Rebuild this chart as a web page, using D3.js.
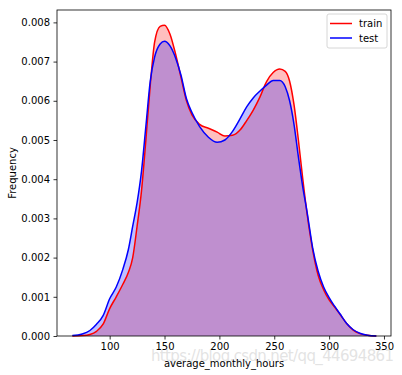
<!DOCTYPE html>
<html>
<head>
<meta charset="utf-8">
<script src="https://cdn.jsdelivr.net/npm/d3@7"></script>
<style>
  body { margin: 0; background: #fff; }
  svg { display: block; font-family: "DejaVu Sans", sans-serif; }
</style>
</head>
<body>
<svg id="chart" width="402" height="375"></svg>
<script>
// kde grid (average monthly hours)
const hours = [66, 75, 82, 88, 94, 100, 106, 112, 117, 121, 125, 129, 133, 137, 141, 146, 150, 155, 160, 165,
	170, 175, 182, 190, 198, 205, 212, 219, 225, 231, 237, 243, 249, 255, 260, 264, 268, 272, 276, 280,
	285, 290, 295, 300, 305, 310, 316, 322, 328, 335, 343]

const trainDensity = [0, 0.00001, 0.00004, 0.00012, 0.00030, 0.00070, 0.00100, 0.00132, 0.00162, 0.00200,
	0.00280, 0.00370, 0.00500, 0.00640, 0.00750, 0.00790, 0.00793, 0.00770, 0.00720, 0.00660,
	0.00600, 0.00564, 0.00540, 0.00530, 0.00520, 0.00510, 0.00512, 0.00526, 0.00550, 0.00577,
	0.00610, 0.00649, 0.00672, 0.00681, 0.00675, 0.00650, 0.00590, 0.00500, 0.00400, 0.00310,
	0.00220, 0.00155, 0.00118, 0.00092, 0.00074, 0.00055, 0.00032, 0.00015, 0.00006, 0.00002, 0]

const testDensity = [0.00001, 0.00005, 0.00014, 0.00030, 0.00052, 0.00095, 0.00125, 0.00170, 0.00220, 0.00280,
	0.00340, 0.00420, 0.00535, 0.00650, 0.00712, 0.00745, 0.00752, 0.00740, 0.00710, 0.00665,
	0.00605, 0.00570, 0.00534, 0.00507, 0.00494, 0.00500, 0.00522, 0.00555, 0.00585, 0.00608,
	0.00625, 0.00640, 0.00652, 0.00652, 0.00636, 0.00600, 0.00540, 0.00457, 0.00380, 0.00315,
	0.00225, 0.00165, 0.00125, 0.00098, 0.00076, 0.00056, 0.00032, 0.00016, 0.00007, 0.00002, 0]

const seriesNames = ['train', 'test']
const seriesColors = ['red', 'blue']
const xTicks = [100, 150, 200, 250, 300, 350]
const yTicks = [0, 0.001, 0.002, 0.003, 0.004, 0.005, 0.006, 0.007, 0.008]

const svg = d3.select('#chart')
const width = +svg.attr('width')
const height = +svg.attr('height')
const margin = {top: 10, right: 11, bottom: 39, left: 57}
const innerWidth = width - margin.left - margin.right
const innerHeight = height - margin.top - margin.bottom

const xScale = d3.scaleLinear()
	.domain([52.0, 356.4])
	.range([0, innerWidth])

const yScale = d3.scaleLinear()
	.domain([0, 0.008316])
	.range([innerHeight, 0])

// watermark sits behind everything
svg.append('text')
	.text('https://blog.csdn.net/qq_44694861')
	.attr('x', 151)
	.attr('y', 361)
	.attr('textLength', 243)
	.attr('font-size', 15)
	.attr('fill', '#dcdcdc')
	.attr('fill-opacity', 0.8)

const g = svg.append('g')
	.attr('transform', `translate(${margin.left}, ${margin.top})`)

const series = [trainDensity, testDensity].map((vals, i) => ({
	name: seriesNames[i],
	color: seriesColors[i],
	points: hours.map((h, j) => ({x: h, y: vals[j]}))
}))

const area = d3.area()
	.x(d => xScale(d.x))
	.y0(yScale(0))
	.y1(d => yScale(d.y))
	.curve(d3.curveMonotoneX)

const line = d3.line()
	.x(d => xScale(d.x))
	.y(d => yScale(d.y))
	.curve(d3.curveMonotoneX)

// fills first, then lines (like matplotlib zorder)
g.selectAll('.fill')
	.data(series)
	.enter()
	.append('path')
	.attr('class', 'fill')
	.attr('d', d => area(d.points))
	.attr('fill', d => d.color)
	.attr('fill-opacity', 0.25)

g.selectAll('.kde')
	.data(series)
	.enter()
	.append('path')
	.attr('class', 'kde')
	.attr('d', d => line(d.points))
	.attr('fill', 'none')
	.attr('stroke', d => d.color)
	.attr('stroke-width', 1.5)

const xAxis = d3.axisBottom(xScale)
	.tickValues(xTicks)
	.tickSize(3.5)
	.tickPadding(3.5)

const yAxis = d3.axisLeft(yScale)
	.tickValues(yTicks)
	.tickFormat(d3.format('.3f'))
	.tickSize(3.5)
	.tickPadding(3.5)

const xAxisG = g.append('g')
	.attr('transform', `translate(0, ${innerHeight})`)
	.call(xAxis)
xAxisG.select('.domain').remove()

const yAxisG = g.append('g').call(yAxis)
yAxisG.select('.domain').remove()

g.selectAll('.tick text')
	.attr('font-size', 10)
	.attr('font-family', 'DejaVu Sans, sans-serif')
	.attr('fill', '#000')
g.selectAll('.tick line')
	.attr('stroke', '#000')
	.attr('stroke-width', 0.8)

// frame
g.append('rect')
	.attr('x', 0)
	.attr('y', 0)
	.attr('width', innerWidth)
	.attr('height', innerHeight)
	.attr('fill', 'none')
	.attr('stroke', '#000')
	.attr('stroke-width', 0.8)

g.append('text')
	.text('average_monthly_hours')
	.attr('text-anchor', 'middle')
	.attr('x', innerWidth / 2)
	.attr('y', innerHeight + 31)
	.attr('font-size', 10)

g.append('text')
	.text('Frequency')
	.attr('text-anchor', 'middle')
	.attr('transform', `translate(${16 - margin.left}, ${innerHeight / 2}) rotate(-90)`)
	.attr('font-size', 10)

// legend
const legend = g.append('g')
	.attr('transform', `translate(${innerWidth - 64}, 4)`)

legend.append('rect')
	.attr('width', 60)
	.attr('height', 34)
	.attr('rx', 2)
	.attr('fill', '#fff')
	.attr('fill-opacity', 0.8)
	.attr('stroke', '#ccc')
	.attr('stroke-width', 0.8)

series.forEach((s, i) => {
	const row = legend.append('g')
		.attr('transform', `translate(0, ${9.5 + i * 14.5})`)
	row.append('line')
		.attr('x1', 3)
		.attr('x2', 25)
		.attr('stroke', s.color)
		.attr('stroke-width', 1.5)
	row.append('text')
		.text(s.name)
		.attr('x', 32)
		.attr('y', 3.5)
		.attr('font-size', 10)
})
</script>
</body>
</html>
